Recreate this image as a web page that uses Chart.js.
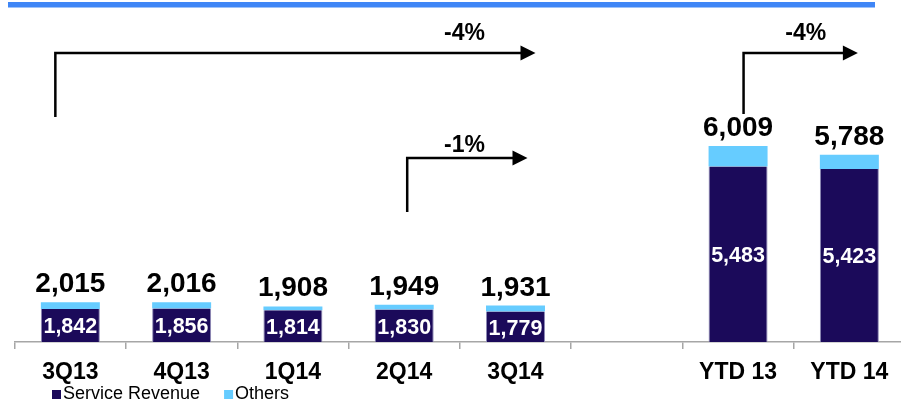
<!DOCTYPE html>
<html><head><meta charset="utf-8">
<script src="https://cdn.jsdelivr.net/npm/chart.js@4.4.0/dist/chart.umd.min.js"></script>
<style>
html,body{margin:0;padding:0;background:#fff;overflow:hidden;width:901px;height:403px}
#wrap{position:relative;width:905px;height:403px}
canvas{display:block}
</style></head><body>
<div id="wrap"><canvas id="c" width="905" height="403"></canvas></div>
<script>
// ---- data ----
const categories = ['3Q13','4Q13','1Q14','2Q14','3Q14','','YTD 13','YTD 14'];
const serviceRevenue = [1842,1856,1814,1830,1779,null,5483,5423];
const others = [173,160,94,119,152,null,526,365];
const seriesNames = ['Service Revenue','Others'];
const growthLabels = ['-4%','-1%','-4%'];

// ---- styles / layout ----
const NAVY = '#1B0A5A', SKY = '#66CCFF', TOPBLUE = '#3F86F6';
const FONT = "'Liberation Sans', Arial, Helvetica, sans-serif";
// arrow geometry: category index + pixel offsets (layout only)
const arrowLayout = [
  {fromCat:0, fromDx:-15, toCat:4, toDx:20, yLine:53, yBottom:117, labelCat:4, labelDx:-51, labelBase:39.5},
  {fromCat:3, fromDx:3,   toCat:4, toDx:12, yLine:158, yBottom:212, labelCat:4, labelDx:-51, labelBase:152},
  {fromCat:6, fromDx:5.5, toCat:7, toDx:8.5, yLine:53, yBottom:114, labelCat:6.5, labelDx:12, labelBase:39.5}
];

const decor = {
  id:'decor',
  beforeDraw(chart){
    const ctx = chart.ctx;
    ctx.save();
    ctx.fillStyle = TOPBLUE;
    ctx.fillRect(8, 2, 867, 5.5);
    ctx.restore();
  },
  afterDatasetsDraw(chart){
    const ctx = chart.ctx;
    const m0 = chart.getDatasetMeta(0), m1 = chart.getDatasetMeta(1);
    const xs = chart.scales.x;
    const bottom = chart.chartArea.bottom;
    ctx.save();
    // value labels
    for (let i = 0; i < categories.length; i++) {
      if (serviceRevenue[i] == null) continue;
      const b0 = m0.data[i], b1 = m1.data[i];
      const base = Math.min(b0.base, bottom);
      ctx.textAlign = 'center';
      ctx.fillStyle = '#FFFFFF';
      ctx.font = "bold 21.5px " + FONT;
      ctx.textBaseline = 'middle';
      ctx.fillText(serviceRevenue[i].toLocaleString('en-US'), b0.x, (b0.y + base) / 2 + 2);
      ctx.fillStyle = '#000000';
      ctx.font = "bold 28px " + FONT;
      ctx.textBaseline = 'alphabetic';
      const total = serviceRevenue[i] + others[i];
      ctx.fillText(total.toLocaleString('en-US'), b1.x, b1.y - 10);
    }
    // arrows
    const catX = c => {
      const lo = Math.floor(c), hi = Math.ceil(c);
      const a = xs.getPixelForValue(lo), b = xs.getPixelForValue(hi);
      return a + (b - a) * (c - lo);
    };
    ctx.strokeStyle = '#000'; ctx.fillStyle = '#000'; ctx.lineWidth = 2.5;
    arrowLayout.forEach((a, k) => {
      const x0 = catX(a.fromCat) + a.fromDx;
      const tip = catX(a.toCat) + a.toDx;
      const headLen = 15, headHalf = 7.5;
      ctx.beginPath();
      ctx.moveTo(x0, a.yBottom);
      ctx.lineTo(x0, a.yLine);
      ctx.lineTo(tip - headLen + 1, a.yLine);
      ctx.stroke();
      ctx.beginPath();
      ctx.moveTo(tip, a.yLine);
      ctx.lineTo(tip - headLen, a.yLine - headHalf);
      ctx.lineTo(tip - headLen, a.yLine + headHalf);
      ctx.closePath();
      ctx.fill();
      ctx.font = "bold 23px " + FONT;
      ctx.textAlign = 'center';
      ctx.textBaseline = 'alphabetic';
      ctx.fillText(growthLabels[k], catX(a.labelCat) + a.labelDx, a.labelBase);
    });
    // legend
    ctx.font = "18px " + FONT;
    ctx.textAlign = 'left';
    ctx.textBaseline = 'middle';
    const colors = [NAVY, SKY];
    let lx = 52;
    const ly = 394.5;
    seriesNames.forEach((name, k) => {
      ctx.fillStyle = colors[k];
      ctx.fillRect(lx, ly - 4.5, 9, 9);
      ctx.fillStyle = '#000';
      ctx.fillText(name, lx + 11, ly);
      lx = lx + 11 + ctx.measureText(name).width + 24;
    });
    ctx.restore();
  }
};

new Chart(document.getElementById('c'), {
  type: 'bar',
  data: {
    labels: categories,
    datasets: [
      {label: seriesNames[0], data: serviceRevenue, backgroundColor: NAVY,
       borderColor: '#8C88B4', borderWidth: {top:0, left:1, right:1, bottom:0},
       barPercentage: 0.53, categoryPercentage: 1},
      {label: seriesNames[1], data: others, backgroundColor: SKY, borderWidth: 0,
       barPercentage: 0.53, categoryPercentage: 1}
    ]
  },
  options: {
    responsive: false, animation: false, devicePixelRatio: 1,
    layout: {padding: {left: 14.7, right: 0, top: 29, bottom: 0}},
    plugins: {legend: {display: false}, tooltip: {enabled: false}},
    scales: {
      x: {
        stacked: true,
        grid: {offset: true, drawOnChartArea: false, drawTicks: true, tickLength: 7, color: '#A6A6A6', lineWidth: 1.5},
        border: {display: true, color: '#A6A6A6', width: 1.5},
        ticks: {font: {family: FONT, weight: 'bold', size: 23}, color: '#000', padding: 10, maxRotation: 0, autoSkip: false},
        afterFit(s) { s.height = 61; }
      },
      y: {stacked: true, display: false, min: 1000, max: 9000}
    }
  },
  plugins: [decor]
});
</script>
</body></html>
